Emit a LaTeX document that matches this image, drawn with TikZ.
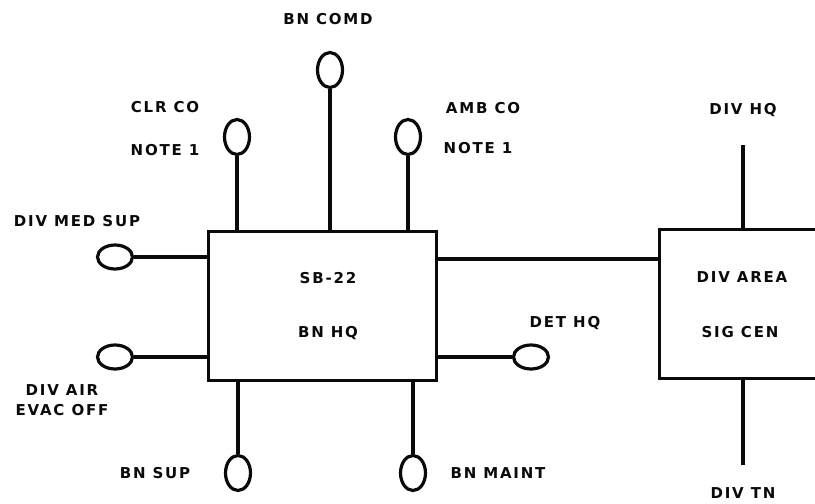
\documentclass[tikz,border=0pt]{standalone}
\usepackage{fontspec}
\setmainfont{DejaVu Sans}[LetterSpace=12]
\usetikzlibrary{shapes.geometric}
\definecolor{ink}{RGB}{10, 10, 10}

\tikzset{
  lbl/.style={ink, font=\bfseries\fontsize{15}{17}\selectfont, inner sep=0pt},
  vtel/.style={ellipse, draw=ink, line width=3.2pt, minimum width=25pt, minimum height=35pt, inner sep=0pt},
  htel/.style={ellipse, draw=ink, line width=3.2pt, minimum width=35pt, minimum height=24pt, inner sep=0pt},
  swbox/.style={draw=ink, line width=3.4pt, inner sep=0pt},
  wire/.style={ink, line width=3.4pt}
}

\begin{document}
\begin{tikzpicture}[x=1pt, y=-1pt]
    \clip (0,0) rectangle (815,504);

    % --- switchboard ---
    \node[swbox, minimum width=228pt, minimum height=149pt] (hq) at (322.5,306) {};
    \node[lbl] (sb) at (328,278) {SB-22};
    \node[lbl] (bnhq) at (328,333) {BN HQ};

    % --- signal centre ---
    \node[swbox, minimum width=300pt, minimum height=149pt] (area) at (809.5,304) {};
    \node[lbl] (divarea) at (742,277) {DIV AREA};
    \node[lbl] (sigcen) at (740,332) {SIG CEN};
    \coordinate (trunk) at (0,259);
    \draw[wire] (hq.east |- trunk) -- (area.west |- trunk);

    % --- top ---
    \node[vtel] (comd) at (330,70) {};
    \node[lbl] (comdl) at (328,19) {BN COMD};
    \node[vtel] (clr) at (237,137) {};
    \node[lbl] (clrl) at (165,107) {CLR CO};
    \node[lbl] (clrn) at (165,150) {NOTE 1};
    \node[vtel] (amb) at (408,137) {};
    \node[lbl] (ambl) at (483,108) {AMB CO};
    \node[lbl] (ambn) at (478,148) {NOTE 1};
    \draw[wire] (comd) -- (comd |- hq.north);
    \draw[wire] (clr) -- (clr |- hq.north);
    \draw[wire] (amb) -- (amb |- hq.north);

    % --- left ---
    \node[htel] (medsup) at (115,257) {};
    \node[lbl] (medsupl) at (77,221) {DIV MED SUP};
    \node[htel] (air) at (115,357) {};
    \node[lbl] (airl) at (62,390) {DIV AIR};
    \node[lbl] (evacl) at (62,410) {EVAC OFF};
    \draw[wire] (medsup) -- (medsup -| hq.west);
    \draw[wire] (air) -- (air -| hq.west);

    % --- bottom and right ---
    \node[vtel] (bnsup) at (238,473) {};
    \node[lbl] (bnsupl) at (155,473) {BN SUP};
    \node[vtel] (maint) at (413,473) {};
    \node[lbl] (maintl) at (498,473) {BN MAINT};
    \node[htel] (det) at (531,357) {};
    \node[lbl] (detl) at (565,323) {DET HQ};
    \draw[wire] (bnsup) -- (bnsup |- hq.south);
    \draw[wire] (maint) -- (maint |- hq.south);
    \draw[wire] (det) -- (det -| hq.east);

    % --- division lines ---
    \coordinate (divhqend) at (743,145);
    \coordinate (divtnend) at (743,465);
    \node[lbl] (divhq) at (743,110) {DIV HQ};
    \node[lbl] (divtn) at (743,493) {DIV TN};
    \draw[wire] (divhqend) -- (divhqend |- area.north);
    \draw[wire] (divtnend) -- (divtnend |- area.south);
\end{tikzpicture}
\end{document}
